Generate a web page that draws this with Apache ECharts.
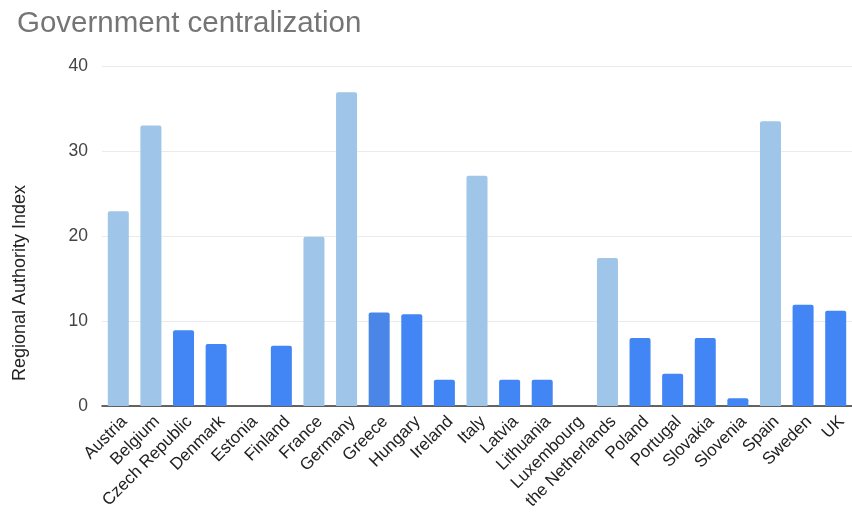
<!DOCTYPE html>
<html>
<head>
<meta charset="utf-8">
<script src="https://cdn.jsdelivr.net/npm/echarts@6/dist/echarts.min.js"></script>
<style>
  html, body { margin: 0; padding: 0; background: #fff; }
  #chart { width: 852px; height: 516px; }
</style>
</head>
<body>
<div id="chart"></div>
<script>
// Regional Authority Index by country
const countries = ['Austria', 'Belgium', 'Czech Republic', 'Denmark', 'Estonia', 'Finland', 'France',
  'Germany', 'Greece', 'Hungary', 'Ireland', 'Italy', 'Latvia', 'Lithuania', 'Luxembourg',
  'the Netherlands', 'Poland', 'Portugal', 'Slovakia', 'Slovenia', 'Spain', 'Sweden', 'UK'];
const authorityIndex = [22.9, 33, 8.9, 7.3, 0, 7.1, 19.9, 36.9, 11.0, 10.8, 3.1, 27.1, 3.1, 3.1, 0,
  17.4, 8.0, 3.8, 8.0, 0.9, 33.5, 11.9, 11.2];
// federal / regionalised states drawn in the lighter shade
const federal = [true, true, false, false, false, false, true, true, false, false, false, true, false, false, false,
  true, false, false, false, false, true, false, false];
const yTicks = [0, 10, 20, 30, 40];

const LIGHT = '#9fc5e8', DARK = '#4285f4', GREECE = '#4a86e8';
const FONT = 'Arial, "Liberation Sans", sans-serif';

const chart = echarts.init(document.getElementById('chart'), null, { renderer: 'canvas' });
chart.setOption({
  animation: false,
  textStyle: { fontFamily: FONT },
  title: {
    text: 'Government centralization',
    left: 12, top: 4,
    textStyle: { fontSize: 29.5, fontWeight: 'normal', color: '#757575', fontFamily: FONT }
  },
  grid: { left: 102, top: 66, width: 755, height: 340, containLabel: false },
  xAxis: {
    type: 'category',
    data: countries,
    axisLine: { lineStyle: { color: '#333', width: 1.5 } },
    axisTick: { show: false },
    axisLabel: { interval: 0, rotate: 45, fontSize: 17, color: '#222', margin: 7, verticalAlign: 'top' }
  },
  yAxis: {
    type: 'value',
    min: yTicks[0], max: yTicks[yTicks.length - 1], interval: 10,
    axisLine: { show: false },
    axisTick: { show: false },
    splitLine: { lineStyle: { color: '#ebebeb' } },
    axisLabel: { fontSize: 17.5, color: '#444', margin: 14 }
  },
  graphic: [{
    type: 'text',
    left: 11, top: 185,
    rotation: Math.PI / 2,
    style: { text: 'Regional Authority Index', fontSize: 18, fill: '#222', fontFamily: FONT }
  }],
  series: [{
    type: 'bar',
    barWidth: 21,
    data: authorityIndex.map((v, i) => ({
      value: v,
      itemStyle: { color: countries[i] === 'Greece' ? GREECE : (federal[i] ? LIGHT : DARK) }
    })),
    itemStyle: { borderRadius: [2, 2, 0, 0] }
  }]
});
</script>
</body>
</html>
